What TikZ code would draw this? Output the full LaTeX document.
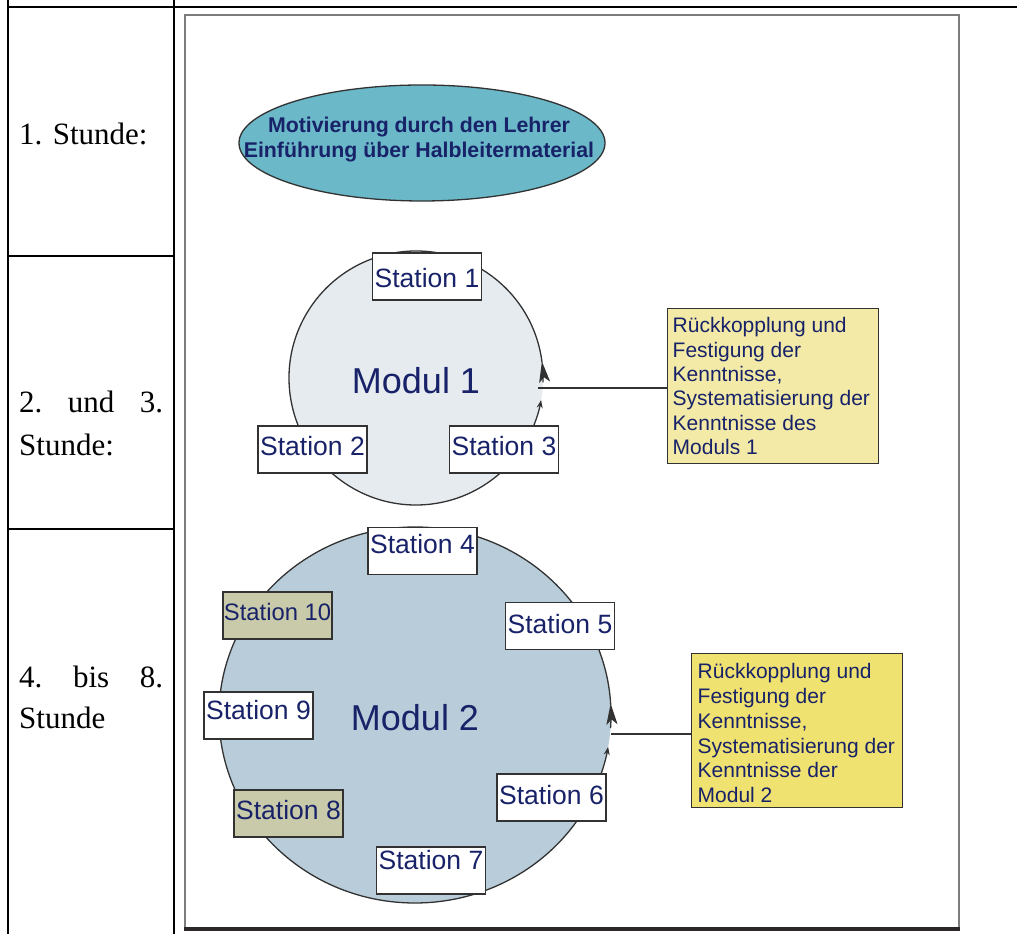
\documentclass[tikz,border=0pt]{standalone}
\usepackage{fontspec}
\setmainfont{Liberation Serif}
\newfontfamily\arialfont{Liberation Sans}
\usetikzlibrary{shapes.geometric,arrows.meta}

\definecolor{navy}{RGB}{24,34,104}
\definecolor{introfill}{RGB}{107,184,200}
\definecolor{modonefill}{RGB}{230,235,240}
\definecolor{modtwofill}{RGB}{184,205,217}
\definecolor{olivefill}{RGB}{200,202,170}
\definecolor{paleyellow}{RGB}{242,234,166}
\definecolor{brightyellow}{RGB}{240,226,112}
\definecolor{edge}{RGB}{50,50,50}
\definecolor{framegray}{RGB}{125,125,125}
\definecolor{framedark}{RGB}{45,40,40}

\begin{document}
\begin{tikzpicture}[x=1pt,y=1pt,
  rule/.style={line width=2pt, black},
  outline/.style={draw=edge, line width=1.3pt},
  connector/.style={draw=edge, line width=1.4pt},
  stnbox/.style={draw=edge, line width=1.4pt, rectangle, fill=white,
    minimum width=109pt, inner sep=0pt, text=navy,
    font=\arialfont\fontsize{26.5}{30}\selectfont},
  fbbox/.style={draw=edge, line width=1.4pt, rectangle, anchor=north west,
    inner ysep=0pt, text=navy},
  cell/.style={anchor=base west, inner sep=0pt},
  modtext/.style={text=navy, inner sep=0pt, text height=32pt, text depth=0pt,
    font=\arialfont\fontsize{36}{40}\selectfont},
  smalltip/.style={-{Stealth[length=8pt,width=6pt]}},
  bigtip/.style={-{Stealth[length=21pt,width=11pt,inset=5pt]}}
]
\useasboundingbox (0,0) rectangle (1017,934);
\fill[white] (0,0) rectangle (1017,934);

% table rules
\draw[rule] (8,934) -- (8,0);
\draw[rule] (174,934) -- (174,0);
\draw[rule] (7,927) -- (1017,927);
\draw[rule] (8,678) -- (174,678);
\draw[rule] (8,405) -- (174,405);

% lesson column
\node[cell, font=\fontsize{31}{43}\selectfont] (h1) at (19,789) {1. Stunde:};
\node[cell] (h2) at (19,521) {\parbox[t]{144pt}{\fontsize{31}{43}\selectfont
  \hbox to 144pt{2.\hfill und\hfill 3.}Stunde:}};
\node[cell] (h3) at (19,246) {\parbox[t]{144pt}{\fontsize{31}{41}\selectfont
  \hbox to 144pt{4.\hfill bis\hfill 8.}Stunde}};

% picture frame
\draw[framegray, line width=1.5pt] (185,919) rectangle (959,6);
\draw[framedark, line width=4pt] (184,4.5) -- (960,4.5);

% introduction
\node[ellipse, draw=edge, line width=1.3pt, fill=introfill, minimum width=366pt,
  minimum height=116pt, inner sep=0pt] (intro) at (422,791) {};
\node[anchor=base, inner sep=0pt, text=navy] (introtext) at (419,801)
  {\parbox[t]{360pt}{\centering\arialfont\bfseries\fontsize{21.3}{24.5}\selectfont
  Motivierung durch den Lehrer\\Einführung über Halbleitermaterial}};

% module 1
\node[circle, fill=modonefill, minimum size=254pt, modtext] (m1) at (416,556) {Modul 1};
\draw[outline] (m1.center) ++(7:127) arc[start angle=7, end angle=338, radius=127];
\draw[outline, smalltip] (m1.center) ++(-22:127) arc[start angle=-22, end angle=-10, radius=127];
\draw[outline, bigtip] (m1.center) ++(-2:127) arc[start angle=-2, end angle=7.5, radius=127];

\node[stnbox, text height=35pt, text depth=12pt] (s1) at (427,657.5) {Station 1};
\node[stnbox, text height=30pt, text depth=17pt] (s2) at (312.5,484.5) {Station 2};
\node[stnbox, text height=30pt, text depth=17pt] (s3) at (504,484.5) {Station 3};

% module 2
\node[ellipse, fill=modtwofill, minimum width=392pt, minimum height=376pt, modtext] (m2) at (415,219) {Modul 2};
\draw[outline] (m2.center) ++(3:196 and 188) arc[start angle=3, end angle=341.4, x radius=196, y radius=188];
\draw[outline, smalltip] (m2.center) ++(-18.6:196 and 188) arc[start angle=-18.6, end angle=-9.8, x radius=196, y radius=188];
\draw[outline, bigtip] (m2.center) ++(-4:196 and 188) arc[start angle=-4, end angle=3.5, x radius=196, y radius=188];

\node[stnbox, text height=26pt, text depth=21pt] (s4) at (422.5,383) {Station 4};
\node[stnbox, fill=olivefill, text height=29pt, text depth=18pt,
  font=\arialfont\fontsize{23.8}{28}\selectfont] (s10) at (277.5,318.5) {Station 10};
\node[stnbox, text height=31pt, text depth=16pt] (s5) at (560,308) {Station 5};
\node[stnbox, text height=28pt, text depth=19pt] (s9) at (258.5,218.5) {Station 9};
\node[stnbox, fill=olivefill, text height=30pt, text depth=17pt] (s8) at (288.5,120.5) {Station 8};
\node[stnbox, text height=31pt, text depth=16pt] (s6) at (551.5,136.5) {Station 6};
\node[stnbox, text height=23pt, text depth=24pt] (s7) at (431,63.5) {Station 7};

% feedback boxes
\node[fbbox, fill=paleyellow, inner xsep=5pt, text height=24pt, text depth=131pt] (fb1) at (667,626)
  {\parbox[t]{201pt}{\arialfont\fontsize{21}{24.4}\selectfont\raggedright
  Rückkopplung und\\Festigung der\\Kenntnisse,\\Systematisierung der\\Kenntnisse des\\Moduls 1}};
\node[fbbox, fill=brightyellow, inner xsep=6pt, text height=25pt, text depth=129pt] (fb2) at (691,281)
  {\parbox[t]{199pt}{\arialfont\fontsize{21}{24.8}\selectfont\raggedright
  Rückkopplung und\\Festigung der\\Kenntnisse,\\Systematisierung der\\Kenntnisse der\\Modul 2}};

% connectors
\coordinate (j1) at (538,546);
\coordinate (j2) at (611,200);
\draw[connector] (j1) -- (j1 -| fb1.west);
\draw[connector] (j2) -- (j2 -| fb2.west);
\end{tikzpicture}
\end{document}
